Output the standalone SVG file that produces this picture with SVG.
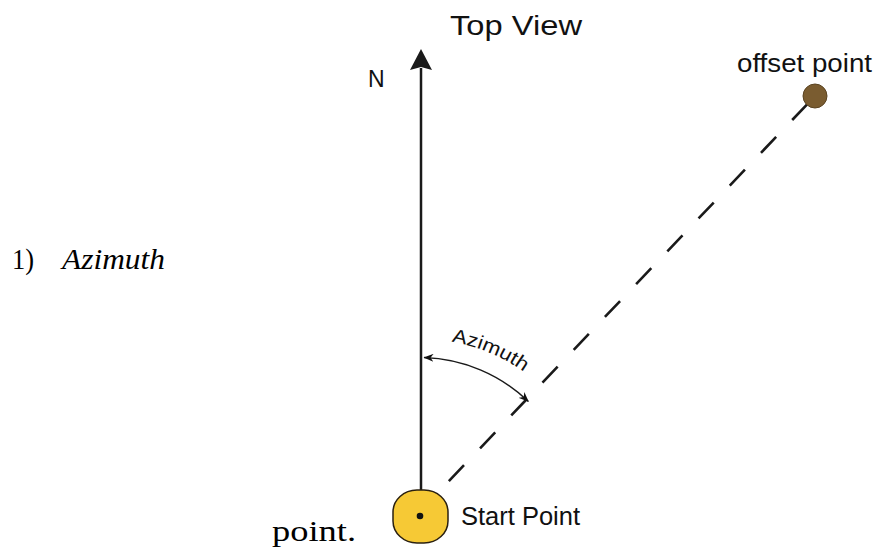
<svg xmlns="http://www.w3.org/2000/svg" width="877" height="548" viewBox="0 0 877 548">
  <defs>
    <marker id="arcHead" viewBox="0 0 10 8" refX="9.5" refY="4" markerWidth="10" markerHeight="8" markerUnits="userSpaceOnUse" orient="auto-start-reverse">
      <path d="M0,0 L10,4 L0,8 L3,4 Z" fill="#111"/>
    </marker>
    <path id="textArc" d="M445.6,340.7 A177,177 0 0 1 546.2,390.8" fill="none"/>
  </defs>
  <style>
    .sans { font-family: "Liberation Sans", Arial, sans-serif; fill: #111; }
    .serif { font-family: "Liberation Serif", "Times New Roman", serif; fill: #000; }
    .solid { stroke: #1a1a1a; stroke-width: 2.5; fill: none; }
  </style>
  <rect width="877" height="548" fill="#ffffff"/>

  <g id="page-text">
    <text class="serif" x="12" y="269" font-size="30" textLength="22" lengthAdjust="spacingAndGlyphs">1)</text>
    <text class="serif" x="62" y="269" font-size="30" font-style="italic" textLength="103" lengthAdjust="spacingAndGlyphs">Azimuth</text>
    <text class="serif" x="272" y="541" font-size="30" textLength="84" lengthAdjust="spacingAndGlyphs">point.</text>
  </g>

  <g id="title">
    <text class="sans" x="450" y="35" font-size="28" textLength="132" lengthAdjust="spacingAndGlyphs">Top View</text>
  </g>

  <g id="connectors">
    <path id="north-line" class="solid" d="M421,68 L421,491"/>
    <path id="north-arrow" d="M421,49 L432,70 L421,67 L410,70 Z" fill="#1a1a1a"/>
    <path id="offset-line" d="M815,96 L448,482" fill="none" stroke="#1a1a1a" stroke-width="2.6" stroke-dasharray="22 23.3" stroke-dashoffset="34.2"/>
    <path id="azimuth-arc" d="M424,357.5 A158,158 0 0 1 528.4,401.5" fill="none" stroke="#1a1a1a" stroke-width="1.4" marker-start="url(#arcHead)" marker-end="url(#arcHead)"/>
  </g>

  <g id="north-label">
    <text class="sans" x="368" y="86.5" font-size="23">N</text>
  </g>

  <g id="azimuth-label">
    <text class="sans" font-size="19"><textPath href="#textArc" startOffset="6" textLength="79" lengthAdjust="spacingAndGlyphs">Azimuth</textPath></text>
  </g>

  <g id="offset-point">
    <circle cx="815" cy="96" r="12" fill="#7a5c30" stroke="#5b4422" stroke-width="1"/>
    <text class="sans" x="737" y="71.5" font-size="25" textLength="135" lengthAdjust="spacingAndGlyphs">offset point</text>
  </g>

  <g id="start-point">
    <rect x="393" y="490" width="55" height="53" rx="24" ry="22" fill="#f6c935" stroke="#2a2010" stroke-width="1.5"/>
    <circle cx="420" cy="516" r="3.3" fill="#111"/>
    <text class="sans" x="461" y="524.5" font-size="25" textLength="119" lengthAdjust="spacingAndGlyphs">Start Point</text>
  </g>
</svg>
